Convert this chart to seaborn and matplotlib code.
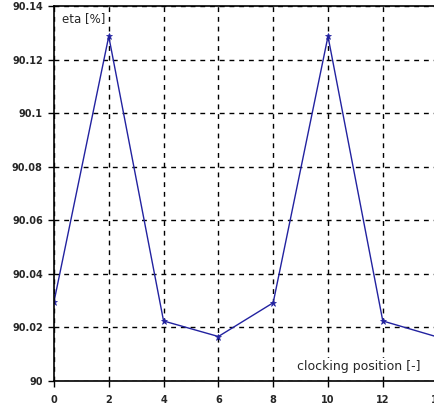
import matplotlib
matplotlib.use("Agg")
import matplotlib.pyplot as plt
import numpy as np
import pandas as pd
import seaborn as sns

# clocking positions and efficiency values
positions = [0, 2, 4, 6, 8, 10, 12, 14]
eta = [90.0295, 90.1287, 90.0224, 90.0166, 90.0292, 90.1287, 90.0224, 90.0164]

x_ticks = [0, 2, 4, 6, 8, 10, 12, 14]
x_labels = ["0", "2", "4", "6", "8", "10", "12", "14"]
y_ticks = [90.0, 90.02, 90.04, 90.06, 90.08, 90.1, 90.12, 90.14]
y_labels = ["90", "90.02", "90.04", "90.06", "90.08", "90.1", "90.12", "90.14"]

df = pd.DataFrame({"position": positions, "eta": eta})

sns.set_style("white")
plt.rcParams["font.family"] = ["DejaVu Sans"]

fig = plt.figure(figsize=(4.35, 4.07), dpi=100)
ax = fig.add_axes([0.124, 0.064, 0.882, 0.921])

sns.lineplot(data=df, x="position", y="eta", ax=ax, color="#2222a0",
             linewidth=1.0, marker="*", markersize=5, markeredgewidth=0.5,
             markeredgecolor="#2222a0")

ax.set_xlim(0, 14)
ax.set_ylim(90.0, 90.14)
ax.set_xticks(x_ticks)
ax.set_xticklabels(x_labels, fontsize=7, fontweight="bold")
ax.set_yticks(y_ticks)
ax.set_yticklabels(y_labels, fontsize=7, fontweight="bold")
ax.set_xlabel("")
ax.set_ylabel("")

ax.grid(True, color="black", linestyle=(0, (3.5, 3.5)), linewidth=1.0)
ax.tick_params(axis="both", direction="out", length=4, width=1, color="black", pad=4)
ax.tick_params(axis="x", bottom=True, pad=6)
ax.tick_params(axis="y", left=True)
for side in ["left", "bottom", "top"]:
    ax.spines[side].set_visible(True)
    ax.spines[side].set_color("black")
    ax.spines[side].set_linewidth(1.2)
ax.spines["right"].set_visible(False)

ax.text(0.02, 0.985, "eta [%]", transform=ax.transAxes, fontsize=8.5,
        ha="left", va="top")
ax.text(0.955, 0.022, "clocking position [-]", transform=ax.transAxes,
        fontsize=9, ha="right", va="bottom",
        bbox=dict(facecolor="white", edgecolor="none", pad=1))

fig.savefig("out.png", dpi=100)
